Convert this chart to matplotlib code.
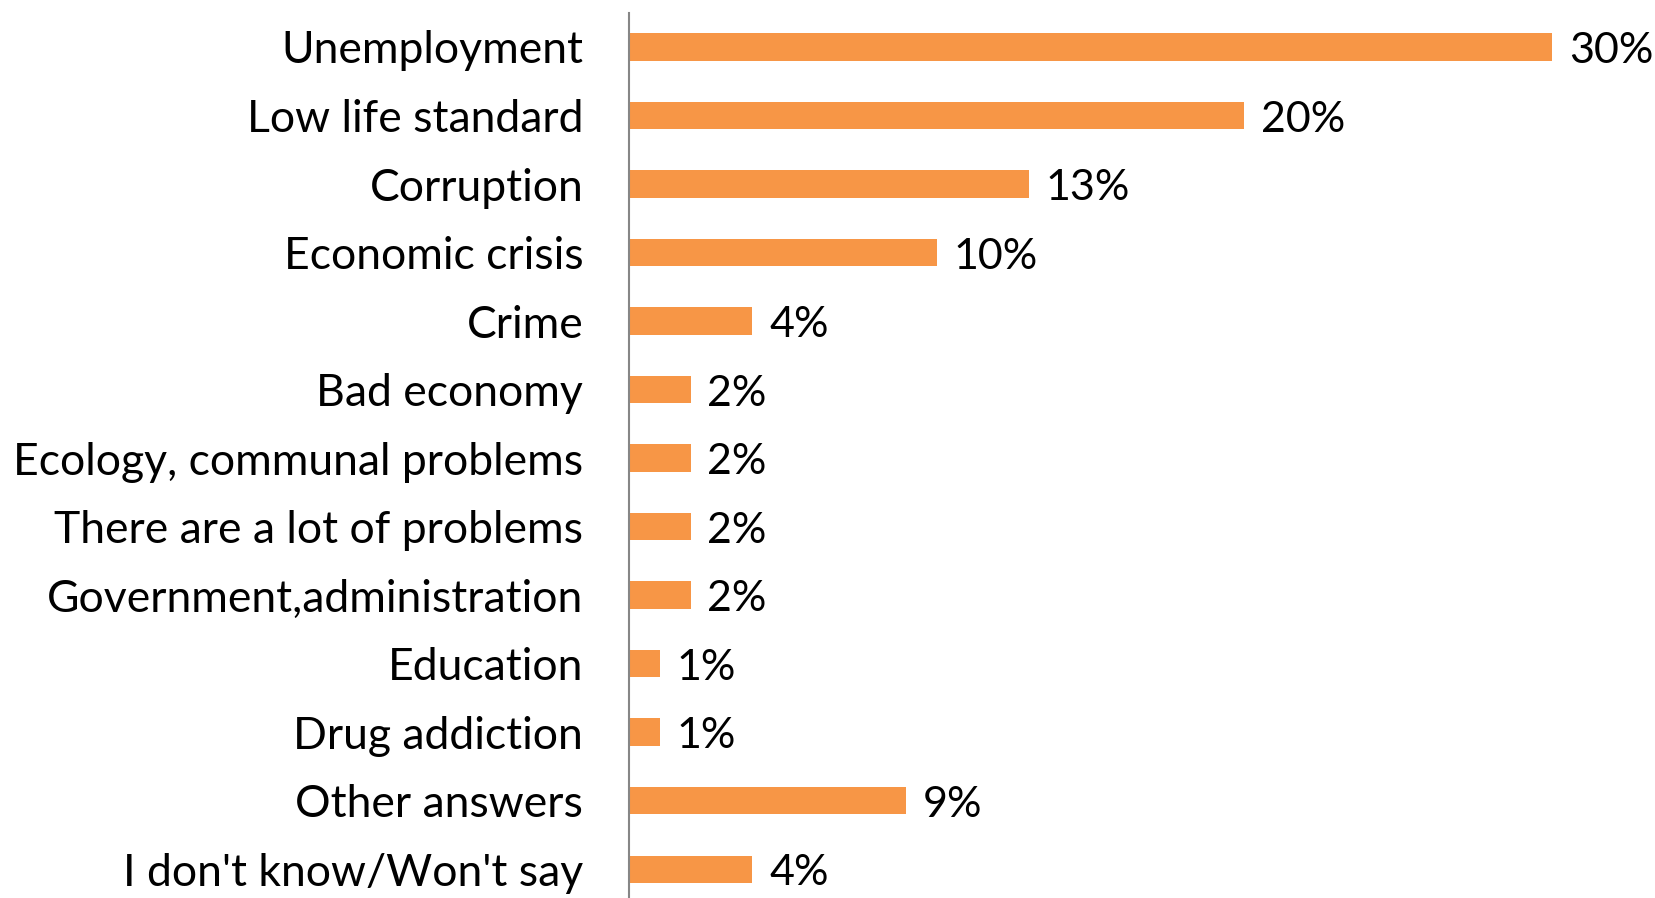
import matplotlib
matplotlib.use("Agg")
import matplotlib.pyplot as plt

categories = [
    "Unemployment",
    "Low life standard",
    "Corruption",
    "Economic crisis",
    "Crime",
    "Bad economy",
    "Ecology, communal problems",
    "There are a lot of problems",
    "Government,administration",
    "Education",
    "Drug addiction",
    "Other answers",
    "I don't know/Won't say",
]
shares = [30, 20, 13, 10, 4, 2, 2, 2, 2, 1, 1, 9, 4]

plt.rcParams['font.family'] = ['Lato', 'DejaVu Sans']

fig = plt.figure(figsize=(16.56, 8.98), dpi=100)
ax = fig.add_axes([629 / 1656, 0.0, (1613.6 - 629) / 1656, 1 - 13 / 898])

pos = list(range(len(categories)))
ax.barh(pos, shares, height=0.4, color="#F79646")

# value labels sit just right of each bar, slightly below centre
for p, v in zip(pos, shares):
    ax.text(v + 0.55, p + 0.06, f"{v}%", va="center", ha="left",
            fontsize=31, color="black")

ax.set_xlim(0, 32)
ax.set_ylim(12.42, -0.496)
ax.set_yticks(pos)
ax.set_yticklabels(categories, fontsize=32)
ax.tick_params(axis="y", length=0, pad=33)
ax.set_xticks([])

for side in ["top", "right", "bottom"]:
    ax.spines[side].set_visible(False)
ax.spines["left"].set_color("#868686")
ax.spines["left"].set_linewidth(1.5)

fig.savefig("out.png", dpi=100)
